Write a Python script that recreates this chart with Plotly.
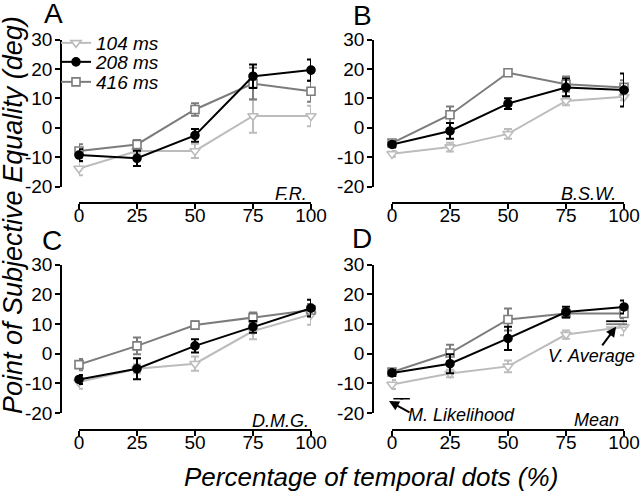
import plotly.graph_objects as go

W, H = 640, 493

# ---------------- data ----------------
x_pct = [0, 25, 50, 75, 100]
x_ticks = [0, 25, 50, 75, 100]
y_ticks = [-20, -10, 0, 10, 20, 30]
y_tick_text = ["-20", "-10", "0", "10", "20", "30"]

series_names = ["104 ms", "208 ms", "416 ms"]

# Panel A (F.R.)
A_104 = [-13.9, -7.9, -7.9, 4.0, 4.0]
A_104_err = [2.3, 1.0, 2.4, 5.7, 3.5]
A_208 = [-9.3, -10.4, -2.6, 17.5, 19.6]
A_208_err = [2.0, 2.6, 2.2, 4.0, 3.6]
A_416 = [-7.9, -5.7, 6.2, 15.0, 12.4]
A_416_err = [2.3, 1.5, 2.1, 5.4, 3.6]

# Panel B (B.S.W.)
B_104 = [-8.9, -6.6, -2.1, 9.1, 10.5]
B_104_err = [1.0, 1.5, 1.7, 1.5, 1.2]
B_208 = [-5.7, -1.1, 8.2, 13.7, 12.8]
B_208_err = [1.0, 2.7, 1.8, 3.0, 5.6]
B_416 = [-5.2, 4.4, 18.7, 14.8, 13.7]
B_416_err = [1.0, 2.8, 1.1, 2.6, 2.4]

# Panel C (D.M.G.)
C_104 = [-9.6, -5.1, -3.4, 7.6, 13.2]
C_104_err = [2.2, 1.5, 2.4, 2.8, 3.5]
C_208 = [-8.7, -5.1, 2.6, 9.0, 15.3]
C_208_err = [1.5, 3.5, 2.2, 2.0, 2.8]
C_416 = [-3.7, 2.6, 9.6, 12.1, 14.7]
C_416_err = [1.9, 2.8, 1.2, 1.7, 2.0]

# Panel D (Mean)
D_104 = [-10.4, -6.7, -4.3, 6.4, 9.0]
D_104_err = [1.5, 1.3, 2.0, 1.4, 2.8]
D_208 = [-6.5, -3.4, 5.1, 14.0, 15.7]
D_208_err = [1.0, 3.2, 3.9, 1.8, 2.2]
D_416 = [-6.2, 0.2, 11.5, 13.5, 13.5]
D_416_err = [1.0, 2.8, 3.7, 1.5, 1.5]

# model predictions shown in panel D
ml_value = -15.2                      # maximum likelihood
ml_dash_x = [-5.1, -1.3, 2.7, 5.6]
v_avg_values = [10.9, 9.9, 8.9]       # vector average (208, 416, 104)
v_avg_dash_x = [93.8, 96.8, 99.8, 102.4]

panel_letters = ["A", "B", "C", "D"]
panel_subjects = ["F.R.", "B.S.W.", "D.M.G.", "Mean"]

# ---------------- styles ----------------
FONT = "Liberation Sans, Arial, sans-serif"
C104, C208, C416 = "#bcbcbc", "#000000", "#7c7c7c"


def px(x):
    return x / W


def py(y):
    return 1 - y / H


panels = [
    ("x", "y", [(A_104, A_104_err), (A_208, A_208_err), (A_416, A_416_err)]),
    ("x2", "y2", [(B_104, B_104_err), (B_208, B_208_err), (B_416, B_416_err)]),
    ("x3", "y3", [(C_104, C_104_err), (C_208, C_208_err), (C_416, C_416_err)]),
    ("x4", "y4", [(D_104, D_104_err), (D_208, D_208_err), (D_416, D_416_err)]),
]

styles = [
    dict(color=C104, symbol="triangle-down", fill="white", size=9),
    dict(color=C208, symbol="circle", fill=C208, size=8),
    dict(color=C416, symbol="square", fill="white", size=8),
]
legend_ids = ["legend", "legend2", "legend3"]

fig = go.Figure()
draw_order = [0, 2, 1]
for pi, (xa, ya, data) in enumerate(panels):
    for si in draw_order:
        vals, err = data[si]
        st = styles[si]
        fig.add_trace(go.Scatter(
            x=x_pct, y=vals, xaxis=xa, yaxis=ya,
            mode="lines+markers", name=series_names[si],
            line=dict(color=st["color"], width=2),
            marker=dict(symbol=st["symbol"], size=st["size"], color=st["fill"],
                        line=dict(color=st["color"], width=1.6)),
            error_y=dict(type="data", array=err, visible=True,
                         color=st["color"], thickness=2, width=4),
            cliponaxis=False,
            showlegend=(pi == 0), legend=legend_ids[si],
        ))

# panel D model lines (dashes)
fig.add_trace(go.Scatter(
    x=ml_dash_x, y=[ml_value] * len(ml_dash_x), xaxis="x4", yaxis="y4",
    mode="markers", marker=dict(symbol="line-ew", size=7,
                                line=dict(color="black", width=1.5)),
    cliponaxis=False, showlegend=False, hoverinfo="skip"))
for v, col in zip(v_avg_values, [C208, C416, C104]):
    fig.add_trace(go.Scatter(
        x=v_avg_dash_x, y=[v] * len(v_avg_dash_x), xaxis="x4", yaxis="y4",
        mode="markers", marker=dict(symbol="line-ew", size=5,
                                    line=dict(color=col, width=1.8)),
        cliponaxis=False, showlegend=False, hoverinfo="skip"))

# ---------------- axes ----------------
x_dom_left = [px(79), px(311)]
x_dom_right = [px(392), px(624)]
y_dom_top = [py(186.5), py(39.5)]
y_dom_bot = [py(413), py(264.5)]
x_pos_top = py(203)
x_pos_bot = py(430)
y_pos_left = px(61)
y_pos_right = px(373)

common = dict(showline=True, linecolor="black", linewidth=1.6, ticks="outside",
              ticklen=5, tickwidth=1.6, tickcolor="black", showgrid=False,
              zeroline=False, tickfont=dict(family=FONT, size=19, color="black"),
              fixedrange=True, automargin=False)

layout_axes = {}
specs = [
    ("xaxis", "yaxis", x_dom_left, y_dom_top, x_pos_top, y_pos_left),
    ("xaxis2", "yaxis2", x_dom_right, y_dom_top, x_pos_top, y_pos_right),
    ("xaxis3", "yaxis3", x_dom_left, y_dom_bot, x_pos_bot, y_pos_left),
    ("xaxis4", "yaxis4", x_dom_right, y_dom_bot, x_pos_bot, y_pos_right),
]
for xk, yk, xd, yd, xp, yp in specs:
    layout_axes[xk] = dict(common, domain=xd, range=[0, 100], anchor="free",
                           position=xp, tickvals=x_ticks, ticklabelstandoff=-10)
    layout_axes[yk] = dict(common, domain=yd, range=[-20, 30], anchor="free",
                           position=yp, tickvals=y_ticks, ticktext=y_tick_text,
                           ticklabelstandoff=-1)

# ---------------- annotations ----------------
ann = []
letter_pos = [(53, 14), (362, 15), (52, 240), (362, 239)]
for L, (lx, ly) in zip(panel_letters, letter_pos):
    ann.append(dict(text=L, xref="paper", yref="paper", x=px(lx), y=py(ly),
                    xanchor="center", yanchor="middle", showarrow=False,
                    font=dict(family=FONT, size=28, color="black")))

subj_pos = [(309, 194), (618, 193.5), (311, 421), (621, 420)]
for s, (sx, sy) in zip(panel_subjects, subj_pos):
    ann.append(dict(text=s, xref="paper", yref="paper", x=px(sx), y=py(sy),
                    xanchor="right", yanchor="middle", showarrow=False,
                    font=dict(family=FONT, size=18, color="black", style="italic")))

# model labels + arrows in D
ann.append(dict(text="M. Likelihood", xref="paper", yref="paper", x=px(406), y=py(415),
                xanchor="left", yanchor="middle", showarrow=False,
                font=dict(family=FONT, size=18, color="black", style="italic")))
ann.append(dict(text="", xref="x4", yref="y4", x=0, y=-16.0, xshift=-3, ax=22, ay=12,
                showarrow=True, arrowhead=2, arrowsize=1, arrowwidth=2,
                arrowcolor="black"))
ann.append(dict(text="V. Average", xref="paper", yref="paper", x=px(637), y=py(356),
                xanchor="right", yanchor="middle", showarrow=False,
                font=dict(family=FONT, size=18, color="black", style="italic")))
ann.append(dict(text="", xref="x4", yref="y4", x=96.6, y=9.0, ax=-15, ay=20,
                showarrow=True, arrowhead=2, arrowsize=1, arrowwidth=2,
                arrowcolor="black"))

# axis titles
ann.append(dict(text="Point of Subjective Equality (deg)", xref="paper", yref="paper",
                x=px(13), y=py(215), textangle=-90, xanchor="center",
                yanchor="middle", showarrow=False,
                font=dict(family=FONT, size=27, color="black", style="italic")))
ann.append(dict(text="Percentage of temporal dots (%)", xref="paper", yref="paper",
                x=px(371), y=py(477), xanchor="center", yanchor="middle",
                showarrow=False,
                font=dict(family=FONT, size=26, color="black", style="italic")))

legend_y = [43, 62, 82]
legend_common = dict(xanchor="left", yanchor="middle", bgcolor="rgba(0,0,0,0)",
                     borderwidth=0, itemwidth=30,
                     font=dict(family=FONT, size=19, color="black", style="italic"))
legends = {}
for lid, ly in zip(legend_ids, legend_y):
    legends[lid] = dict(legend_common, x=px(56), y=py(ly))

fig.update_layout(
    width=W, height=H, margin=dict(l=0, r=0, t=0, b=0, autoexpand=False),
    paper_bgcolor="white", plot_bgcolor="white",
    annotations=ann, showlegend=True, **layout_axes, **legends,
)

fig.write_html("out.html",
               config={"displayModeBar": False},
               post_script="document.body.style.margin='0px';"
                           "document.body.style.overflow='hidden';")
